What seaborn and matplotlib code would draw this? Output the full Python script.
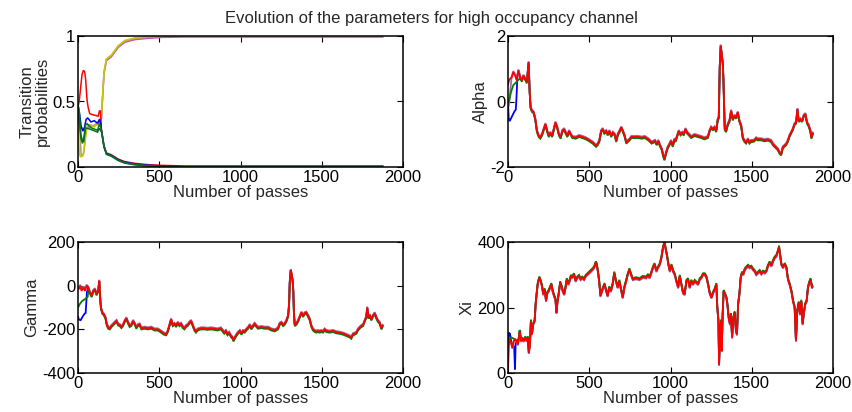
import numpy as np
import pandas as pd
import matplotlib
matplotlib.use("Agg")
import matplotlib.pyplot as plt
import matplotlib.transforms as mtransforms
import seaborn as sns

# ---------------------------------------------------------------- data
# Transition probabilities: early behaviour of each chain, then the shared
# convergence towards 1 (upper group) and towards 0 (lower group).
tp_upper_pass = [144, 160, 175, 206, 247, 288, 350, 432, 514, 658, 1000, 1880]
tp_upper_val = [0.38, 0.72, 0.82, 0.85, 0.92, 0.96, 0.98, 0.99, 0.997, 1.0, 1.0, 1.0]
tp_lower_pass = [144, 160, 175, 206, 247, 288, 350, 432, 514, 658, 1000, 1880]
tp_lower_val = [0.28, 0.155, 0.10, 0.085, 0.053, 0.033, 0.02, 0.01, 0.005, 0.0, 0.0, 0.0]

tp_red_pass = [0, 8, 18, 25, 33, 41, 47, 56, 62, 72, 93, 113, 124, 132, 138]
tp_red_val = [0.45, 0.5, 0.62, 0.70, 0.73, 0.72, 0.66, 0.50, 0.45, 0.40, 0.39, 0.385, 0.38, 0.42, 0.42]
tp_blue_pass = [0, 10, 20, 30, 40, 50, 60, 80, 100, 120, 132, 140]
tp_blue_val = [0.47, 0.40, 0.30, 0.27, 0.30, 0.36, 0.37, 0.34, 0.35, 0.33, 0.36, 0.33]
tp_green_pass = [0, 8, 18, 28, 36, 46, 56, 80, 100, 120, 132, 140]
tp_green_val = [0.48, 0.42, 0.22, 0.18, 0.22, 0.32, 0.33, 0.30, 0.29, 0.28, 0.33, 0.30]
tp_dkgreen_pass = [0, 8, 18, 28, 36, 46, 56, 80, 100, 120, 132, 140]
tp_dkgreen_val = [0.42, 0.35, 0.25, 0.20, 0.20, 0.30, 0.30, 0.29, 0.28, 0.27, 0.30, 0.28]
tp_yellow_pass = [0, 8, 15, 30, 40, 50, 60, 80, 100, 120, 135]
tp_yellow_val = [0.30, 0.10, 0.07, 0.08, 0.15, 0.25, 0.32, 0.31, 0.30, 0.33, 0.36]
tp_magenta_pass = [0, 10, 30, 50, 70, 100, 130]
tp_magenta_val = [0.35, 0.33, 0.30, 0.29, 0.33, 0.32, 0.34]
tp_olive_pass = [0, 10, 20, 35, 50, 70, 100, 130]
tp_olive_val = [0.40, 0.30, 0.08, 0.10, 0.30, 0.30, 0.32, 0.35]

# Alpha
alpha_pass = [0, 6, 12, 23, 33, 44, 54, 64, 75, 85, 95, 106, 116, 127, 133, 139, 147, 158, 168,
              178, 189, 199, 210, 220, 230, 241, 251, 261, 272, 282, 292, 303, 313, 324, 334, 345,
              355, 365, 376, 386, 396, 417, 438, 458, 479, 500, 521, 542, 552, 562, 573, 583, 593,
              604, 614, 624, 635, 645, 656, 666, 676, 687, 697, 707, 718, 728, 739, 749, 759, 780,
              801, 822, 842, 863, 884, 905, 915, 925, 936, 946, 956, 963, 973, 983, 994, 1004, 1014,
              1025, 1031, 1041, 1051, 1062, 1072, 1082, 1092, 1103, 1113, 1127, 1148, 1168, 1189,
              1209, 1230, 1240, 1250, 1261, 1271, 1281, 1291, 1297, 1303, 1309, 1315, 1322, 1326,
              1330, 1334, 1342, 1353, 1363, 1373, 1383, 1394, 1404, 1414, 1424, 1435, 1445, 1455,
              1465, 1476, 1486, 1496, 1507, 1517, 1527, 1537, 1558, 1578, 1599, 1619, 1630, 1640,
              1650, 1660, 1671, 1681, 1691, 1701, 1712, 1722, 1732, 1742, 1753, 1763, 1773, 1781,
              1789, 1800, 1810, 1820, 1830, 1840, 1851, 1861, 1867, 1877]
alpha_red = [0.5, 0.64, 0.69, 0.74, 0.90, 0.79, 0.64, 0.95, 0.74, 0.64, 0.79, 0.69, 0.59, 1.2,
             0.33, -0.18, -0.28, -0.33, -0.54, -0.9, -1.05, -1.1, -1.0, -0.84, -0.69, -0.9, -1.05,
             -0.95, -1.05, -0.84, -0.64, -0.79, -1.0, -1.1, -0.9, -0.84, -0.95, -1.05, -0.9, -1.0,
             -1.08, -1.1, -1.05, -1.08, -1.12, -1.18, -1.25, -1.35, -1.3, -1.2, -0.9, -0.84, -0.95,
             -0.9, -1.0, -0.9, -1.05, -0.95, -1.0, -1.2, -1.0, -0.9, -0.79, -0.9, -1.05, -1.25,
             -1.2, -1.15, -1.08, -1.08, -1.08, -1.1, -1.08, -1.15, -1.25, -1.2, -1.3, -1.2, -1.35,
             -1.45, -1.66, -1.76, -1.56, -1.4, -1.3, -1.2, -1.35, -1.15, -1.2, -1.05, -0.9, -1.0,
             -0.95, -1.0, -0.84, -0.95, -1.0, -1.08, -1.02, -1.05, -1.08, -1.12, -1.08, -0.9,
             -0.79, -0.84, -0.79, -0.9, -0.54, -0.49, 1.05, 1.71, 1.46, 1.15, 0.64, -0.17, -0.84,
             -0.9, -0.69, -0.59, -0.28, -0.54, -0.43, -0.49, -0.33, -0.59, -0.74, -1.1, -1.2,
             -1.25, -1.15, -1.25, -1.2, -1.2, -1.18, -1.12, -1.15, -1.15, -1.18, -1.16, -1.2, -1.3,
             -1.35, -1.4, -1.45, -1.56, -1.61, -1.4, -1.35, -1.3, -1.2, -1.05, -0.95, -0.84, -0.69,
             -0.64, -0.23, -0.59, -0.54, -0.59, -0.43, -0.38, -0.64, -0.74, -0.9, -1.1, -0.95]
alpha_green_pass = [0, 6, 19, 33, 54, 64]
alpha_green = [0.0, 0.05, 0.33, 0.54, 0.64, 0.70]
alpha_blue_pass = [0, 4, 10, 20, 30, 40, 48, 53, 58, 64]
alpha_blue = [0.0, -0.5, -0.6, -0.5, -0.4, -0.3, -0.25, 0.2, 0.8, 0.95]
alpha_purple_pass = [0, 6, 14]
alpha_purple = [-0.18, -0.15, 0.3]

# Gamma
gamma_pass = [0, 6, 14, 22, 33, 43, 53, 63, 73, 84, 94, 104, 114, 124, 131, 137, 141, 149, 159,
              169, 177, 186, 196, 206, 216, 226, 237, 247, 257, 267, 277, 288, 298, 308, 318, 328,
              339, 349, 359, 369, 379, 390, 410, 430, 451, 471, 492, 512, 528, 543, 553, 563, 573,
              583, 594, 604, 614, 624, 634, 645, 655, 665, 675, 685, 696, 706, 716, 726, 737, 757,
              777, 798, 818, 838, 859, 879, 889, 900, 910, 920, 930, 941, 951, 957, 965, 975, 985,
              996, 1006, 1016, 1026, 1036, 1047, 1057, 1067, 1077, 1087, 1098, 1108, 1128, 1149,
              1170, 1190, 1211, 1231, 1241, 1252, 1262, 1272, 1282, 1293, 1299, 1303, 1309, 1315,
              1321, 1325, 1329, 1334, 1344, 1354, 1364, 1375, 1385, 1395, 1405, 1416, 1426, 1436,
              1446, 1457, 1467, 1477, 1487, 1498, 1508, 1518, 1528, 1549, 1569, 1590, 1610, 1631,
              1651, 1672, 1682, 1692, 1703, 1713, 1723, 1733, 1744, 1754, 1764, 1774, 1780, 1787,
              1795, 1805, 1815, 1826, 1836, 1846, 1856, 1867, 1877]
gamma_red = [-8, -16, 0, -24, -8, -24, 0, -8, -31, -47, -24, -16, -39, -24, 22, -62, -100, -123,
             -131, -146, -177, -192, -195, -184, -177, -169, -161, -177, -180, -189, -180, -161,
             -149, -169, -184, -180, -161, -174, -192, -180, -177, -195, -192, -195, -192, -200,
             -200, -210, -219, -222, -207, -180, -154, -180, -174, -184, -169, -180, -174, -189,
             -195, -184, -180, -169, -161, -180, -200, -210, -200, -195, -195, -197, -195, -197,
             -200, -195, -204, -215, -207, -222, -215, -230, -238, -250, -238, -225, -215, -207,
             -219, -207, -210, -200, -192, -180, -195, -184, -174, -184, -192, -189, -192, -192,
             -200, -204, -195, -174, -169, -180, -174, -161, -138, -85, 15, 71, 52, 22, -24, -131,
             -180, -174, -161, -143, -123, -138, -126, -123, -138, -154, -184, -200, -207, -210,
             -207, -210, -207, -210, -200, -207, -210, -207, -213, -215, -219, -225, -232, -238,
             -222, -219, -215, -200, -192, -184, -180, -161, -143, -100, -146, -134, -154, -138,
             -126, -146, -161, -169, -195, -180]
gamma_green_pass = [0, 10, 25, 45, 60]
gamma_green = [-95, -80, -65, -55, -45]
gamma_blue_pass = [0, 5, 16, 30, 41, 47, 55]
gamma_blue = [-140, -155, -158, -140, -128, -125, -30]

# Xi
xi_pass = [0, 4, 10, 19, 27, 35, 43, 52, 60, 68, 72, 81, 89, 97, 106, 114, 122, 128, 135, 141,
           147, 155, 164, 170, 178, 184, 193, 201, 209, 217, 226, 234, 242, 250, 259, 267, 275,
           284, 292, 298, 304, 313, 321, 329, 337, 346, 354, 362, 371, 379, 387, 395, 406, 416,
           426, 437, 447, 457, 468, 478, 489, 499, 509, 520, 530, 540, 546, 553, 561, 569, 578,
           586, 594, 602, 613, 623, 633, 644, 654, 664, 675, 685, 696, 706, 716, 727, 737, 747,
           757, 768, 789, 809, 830, 851, 861, 871, 882, 892, 902, 913, 923, 934, 944, 954, 963,
           971, 979, 987, 996, 1006, 1016, 1026, 1036, 1047, 1057, 1067, 1077, 1087, 1098, 1108,
           1118, 1128, 1139, 1149, 1159, 1170, 1180, 1190, 1200, 1211, 1221, 1231, 1241, 1252,
           1262, 1272, 1282, 1288, 1295, 1299, 1305, 1311, 1315, 1321, 1327, 1336, 1344, 1350,
           1358, 1366, 1372, 1379, 1387, 1395, 1403, 1409, 1416, 1424, 1432, 1440, 1448, 1457,
           1467, 1477, 1487, 1498, 1508, 1518, 1528, 1539, 1549, 1559, 1569, 1580, 1590, 1600,
           1610, 1621, 1631, 1641, 1651, 1662, 1668, 1674, 1682, 1692, 1703, 1713, 1723, 1733,
           1744, 1754, 1764, 1772, 1780, 1789, 1797, 1805, 1813, 1821, 1829, 1838, 1846, 1854,
           1862, 1871, 1875]
xi_red = [11, 87, 103, 93, 77, 98, 103, 98, 87, 108, 128, 98, 103, 98, 108, 98, 108, 62, 87, 159,
          118, 149, 159, 210, 250, 276, 291, 281, 266, 240, 255, 220, 245, 250, 261, 271, 250, 235,
          225, 184, 215, 245, 276, 266, 250, 240, 261, 286, 271, 281, 296, 291, 301, 281, 291, 296,
          286, 291, 286, 296, 301, 306, 311, 316, 322, 337, 332, 311, 281, 235, 250, 261, 271, 255,
          235, 261, 250, 271, 306, 281, 261, 281, 255, 230, 261, 281, 301, 316, 301, 286, 289, 286,
          293, 291, 299, 291, 306, 322, 332, 311, 322, 332, 352, 383, 398, 378, 357, 332, 311, 329,
          311, 301, 281, 261, 296, 271, 245, 240, 281, 286, 261, 281, 271, 281, 276, 271, 286, 291,
          301, 301, 293, 271, 245, 230, 245, 255, 271, 200, 159, 26, 128, 159, 67, 179, 250, 240,
          230, 210, 169, 149, 179, 108, 169, 184, 128, 118, 210, 240, 291, 306, 301, 316, 322, 327,
          322, 324, 316, 311, 301, 306, 311, 303, 309, 306, 311, 327, 337, 327, 342, 352, 357, 373,
          385, 362, 332, 322, 332, 322, 286, 271, 250, 220, 200, 98, 189, 215, 179, 220, 149, 184,
          210, 220, 261, 276, 286, 261, 266]
xi_green_pass = [0, 5, 20, 40, 60]
xi_green = [60, 100, 105, 100, 95]
xi_blue_pass = [0, 4, 12, 20, 28, 38, 43, 47, 55]
xi_blue = [80, 123, 120, 95, 85, 80, 11, 90, 95]

x_ticks = [0, 500, 1000, 1500, 2000]
TITLE = "Evolution of the parameters for high occupancy channel"
XLABEL = "Number of passes"

# ---------------------------------------------------------------- style
sns.set_style("ticks")
plt.rcParams["font.family"] = ["Liberation Sans", "DejaVu Sans"]
plt.rcParams["font.size"] = 12

M_RED = "#ff0000"
M_BLUE = "#0000ff"
M_GREEN = "#008000"
M_DKGREEN = "#0b6b2a"
M_MAGENTA = "#d040d0"
M_YELLOW = "#c8c800"
M_OLIVE = "#a8a060"
M_PURPLE = "#9a70b0"

fig = plt.figure(figsize=(8.52, 4.12), dpi=100)

def make_axes(left, bottom, right, top):
    W, H = 852.0, 412.0
    return fig.add_axes([left / W, 1 - bottom / H, (right - left) / W, (bottom - top) / H])

ax_tp = make_axes(78, 167, 403, 36)
ax_al = make_axes(508, 167, 833, 36)
ax_ga = make_axes(78, 373, 403, 242)
ax_xi = make_axes(508, 373, 833, 242)


def joined(early_pass, early_val, base_pass, base_val):
    """Chain that starts on its own path and then follows the shared trace."""
    p = list(early_pass) + [q for q in base_pass if q > early_pass[-1]]
    v = list(early_val) + [b for q, b in zip(base_pass, base_val) if q > early_pass[-1]]
    return p, v


def draw(ax, p, v, color, lw=1.2, dy=0.0):
    df = pd.DataFrame({"passes": p, "value": v})
    sns.lineplot(data=df, x="passes", y="value", ax=ax, color=color, lw=lw,
                 estimator=None, sort=False, solid_joinstyle="miter",
                 solid_capstyle="butt")
    if dy:
        line = ax.get_lines()[-1]
        line.set_transform(mtransforms.offset_copy(ax.transData, fig=fig, x=0, y=dy,
                                                   units="dots"))


# ---- transition probabilities
for ep, ev, col, dy in [(tp_magenta_pass, tp_magenta_val, M_MAGENTA, -1.0),
                        (tp_olive_pass, tp_olive_val, M_OLIVE, 0.0),
                        (tp_yellow_pass, tp_yellow_val, M_YELLOW, 0.8)]:
    p, v = joined(ep, ev, tp_upper_pass, tp_upper_val)
    draw(ax_tp, p, v, col, lw=1.1, dy=dy)
for ep, ev, col, dy in [(tp_red_pass, tp_red_val, M_RED, 1.0),
                        (tp_blue_pass, tp_blue_val, M_BLUE, 0.5),
                        (tp_green_pass, tp_green_val, M_GREEN, 0.0),
                        (tp_dkgreen_pass, tp_dkgreen_val, M_DKGREEN, -0.5)]:
    p, v = joined(ep, ev, tp_lower_pass, tp_lower_val)
    draw(ax_tp, p, v, col, lw=1.1, dy=dy)

# ---- alpha
p, v = joined(alpha_blue_pass, alpha_blue, alpha_pass, alpha_red)
draw(ax_al, p, v, M_BLUE, lw=1.3)
p, v = joined(alpha_purple_pass, alpha_purple, alpha_pass, alpha_red)
draw(ax_al, p, v, M_PURPLE, lw=1.3, dy=1.0)
p, v = joined(alpha_green_pass, alpha_green, alpha_pass, alpha_red)
draw(ax_al, p, v, M_GREEN, lw=1.3, dy=-1.2)
draw(ax_al, alpha_pass, alpha_red, M_RED, lw=1.3)

# ---- gamma
p, v = joined(gamma_blue_pass, gamma_blue, gamma_pass, gamma_red)
draw(ax_ga, p, v, M_BLUE, lw=1.3)
draw(ax_ga, gamma_pass, gamma_red, M_PURPLE, lw=1.3, dy=1.0)
p, v = joined(gamma_green_pass, gamma_green, gamma_pass, gamma_red)
draw(ax_ga, p, v, M_GREEN, lw=1.3, dy=-1.2)
draw(ax_ga, gamma_pass, gamma_red, M_RED, lw=1.3)

# ---- xi
p, v = joined(xi_blue_pass, xi_blue, xi_pass, xi_red)
draw(ax_xi, p, v, M_BLUE, lw=1.3)
draw(ax_xi, xi_pass, xi_red, M_PURPLE, lw=1.3, dy=-1.0)
p, v = joined(xi_green_pass, xi_green, xi_pass, xi_red)
draw(ax_xi, p, v, M_GREEN, lw=1.3, dy=1.2)
draw(ax_xi, xi_pass, xi_red, M_RED, lw=1.3)

# ---------------------------------------------------------------- axes
specs = [
    (ax_tp, (0, 1), [0, 0.5, 1], ["0", "0.5", "1"], "Transition\nprobabilities"),
    (ax_al, (-2, 2), [-2, 0, 2], ["-2", "0", "2"], "Alpha"),
    (ax_ga, (-400, 200), [-400, -200, 0, 200], ["-400", "-200", "0", "200"], "Gamma"),
    (ax_xi, (0, 400), [0, 200, 400], ["0", "200", "400"], "Xi"),
]
for ax, ylim, yt, ytl, ylab in specs:
    ax.set_xlim(0, 2000)
    ax.set_ylim(*ylim)
    ax.set_xticks(x_ticks)
    ax.set_xticklabels([str(t) for t in x_ticks])
    ax.set_yticks(yt)
    ax.set_yticklabels(ytl)
    ax.set_xlabel(XLABEL, labelpad=0)
    ax.set_ylabel(ylab, labelpad=2, linespacing=1.0)
    ax.tick_params(direction="in", top=True, right=True, length=4, width=0.8,
                   pad=2, labelsize=12, colors="black")
    for s in ax.spines.values():
        s.set_visible(True)
        s.set_linewidth(1.1)
        s.set_color("black")
    ax.set_facecolor("white")

fig.text(0.506, 0.956, TITLE, ha="center", va="center", fontsize=12)

fig.savefig("out.png", dpi=100, facecolor="white")
